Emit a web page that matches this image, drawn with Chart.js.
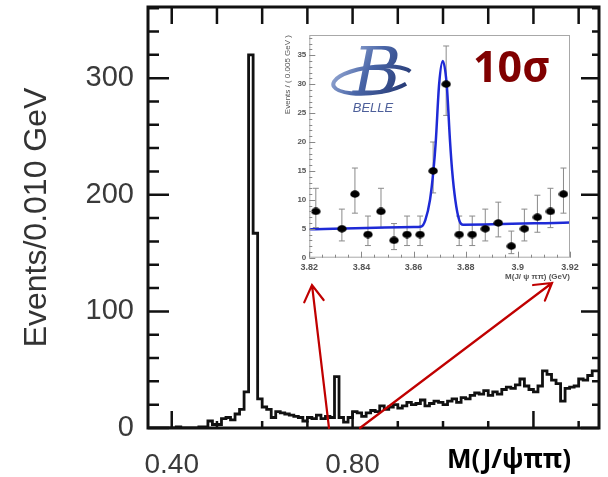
<!DOCTYPE html>
<html lang="en">
<head>
<meta charset="UTF-8">
<title>chart</title>
<script src="https://cdn.jsdelivr.net/npm/chart.js@4.4.0/dist/chart.umd.min.js"></script>
<style>
  * { margin: 0; padding: 0; }
  body { background: #fff; }
  #wrap { position: relative; width: 608px; height: 477px; background: #fff; }
  #main { position: absolute; left: 0; top: 0; }
  #inset { position: absolute; left: 268px; top: 26px; }
</style>
</head>
<body>
<div id="wrap">
  <canvas id="main" width="608" height="477"></canvas>
  <canvas id="inset" width="316" height="268"></canvas>
</div>
<script>
// main histogram: M(J/psi pi pi) - M(J/psi), 0.010 GeV bins starting at 0.35
const binLo = 0.35;
const binWidth = 0.01;
const counts = [
  0, 0, 0, 0, 0, 0, 0, 1, 0, 0,
  0, 0, 1, 1, 6, 3, 3, 8, 9, 7,
  12, 16, 31, 320, 167, 25, 18, 16, 9, 14,
  13, 12, 11, 10, 9, 6, 9, 8, 11, 8,
  10, 9, 44, 9, 5, 9, 14, 13, 10, 13,
  15, 14, 19, 16, 18, 20, 17, 19, 22, 20,
  21, 24, 19, 21, 23, 22, 20, 23, 25, 22,
  26, 25, 28, 30, 29, 32, 28, 31, 29, 33,
  35, 34, 37, 42, 36, 33, 31, 36, 49, 46,
  41, 38, 23, 34, 35, 36, 42, 41, 45, 49
];
const xTickVals = [0.4, 0.5, 0.6, 0.7, 0.8, 0.9, 1.0, 1.1, 1.2, 1.3];
const xLabelVals = [0.4, 0.8];
const xMajorVals = [0.4, 0.8, 1.2];
const yTickVals = [0, 20, 40, 60, 80, 100, 120, 140, 160, 180, 200, 220, 240, 260, 280, 300, 320, 340, 360];
const yLabelVals = [0, 100, 200, 300];

// inset: zoom on X(3872), 0.005 GeV bins
const insetX = [3.8225, 3.8325, 3.8375, 3.8425, 3.8475, 3.8525, 3.8575, 3.8625, 3.8675, 3.8725,
                3.8775, 3.8825, 3.8875, 3.8925, 3.8975, 3.9025, 3.9075, 3.9125, 3.9175];
const insetY = [8, 5, 11, 4, 8, 3, 4, 4, 15, 30, 4, 4, 5, 6, 2, 5, 7, 8, 11];
const insetErrLo = [5.2, 2.9, 7.7, 2.1, 5.2, 1.4, 2.1, 2.1, 11.2, 24.6, 2.1, 2.1, 2.9, 3.6, 0.7, 2.9, 4.4, 5.2, 7.7];
const insetErrHi = [12, 8.4, 15.5, 7.2, 12, 5.9, 7.2, 7.2, 20, 36.6, 7.2, 7.2, 8.4, 9.6, 4.6, 8.4, 10.8, 12, 15.5];
const fitX = [3.82, 3.86, 3.863, 3.8645, 3.8663, 3.8676, 3.8685, 3.8698, 3.8712, 3.8727, 3.874, 3.8748, 3.876, 3.8775, 3.879, 3.92];
const fitY = [4.9, 5.3, 5.4, 6.5, 10, 15, 20, 30, 34, 30, 20, 15, 10, 6.5, 5.7, 6.1];
const insetXTicks = [3.82, 3.84, 3.86, 3.88, 3.9, 3.92];
const insetYTicks = [0, 5, 10, 15, 20, 25, 30, 35];

const histPoints = counts.map((c, i) => ({ x: binLo + i * binWidth, y: c }));
histPoints.push({ x: binLo + counts.length * binWidth, y: counts[counts.length - 1] });

function noPad(s) {
  s.paddingTop = 0; s.paddingBottom = 0; s.paddingLeft = 0; s.paddingRight = 0;
}

function arrow(ctx, x0, y0, x1, y1) {
  const a = Math.atan2(y1 - y0, x1 - x0), h = 19, w = 0.54;
  ctx.beginPath();
  ctx.moveTo(x0, y0);
  ctx.lineTo(x1, y1);
  ctx.moveTo(x1 - h * Math.cos(a - w), y1 - h * Math.sin(a - w));
  ctx.lineTo(x1, y1);
  ctx.lineTo(x1 - h * Math.cos(a + w), y1 - h * Math.sin(a + w));
  ctx.stroke();
}

const mainDecor = {
  id: 'mainDecor',
  afterDraw(chart) {
    const { ctx, chartArea: a, scales: { x, y } } = chart;
    ctx.save();
    ctx.strokeStyle = '#111';
    ctx.lineWidth = 2.5;
    ctx.beginPath();
    xTickVals.forEach(v => {
      const px = x.getPixelForValue(v);
      const major = xMajorVals.some(m => Math.abs(m - v) < 1e-6);
      ctx.moveTo(px, a.top); ctx.lineTo(px, a.top + 17);
      ctx.moveTo(px, a.bottom); ctx.lineTo(px, a.bottom - (major ? 17 : 7));
    });
    yTickVals.forEach(v => {
      const py = y.getPixelForValue(v);
      const major = v % 100 === 0;
      ctx.moveTo(a.left, py); ctx.lineTo(a.left + (major ? 21 : 11), py);
      ctx.moveTo(a.right, py); ctx.lineTo(a.right - (major ? 18 : 7), py);
    });
    ctx.stroke();
    ctx.lineWidth = 3;
    ctx.strokeRect(a.left, a.top, a.width, a.height);

    // red arrows pointing to the inset
    ctx.strokeStyle = '#c00000';
    ctx.lineWidth = 2.2;
    ctx.lineCap = 'round';
    arrow(ctx, 329, a.bottom, 312, 285);
    arrow(ctx, 360, a.bottom, 552, 283);

    // axis label at the right of the x axis
    ctx.fillStyle = '#000';
    ctx.font = 'bold 26px "Noto Sans"';
    ctx.textAlign = 'center';
    ctx.textBaseline = 'alphabetic';
    ctx.fillText('M(J/ψππ)', 509, 468);
    ctx.restore();
  }
};

new Chart(document.getElementById('main'), {
  type: 'line',
  data: {
    datasets: [{
      data: histPoints,
      stepped: 'after',
      borderColor: '#111',
      borderWidth: 2.8,
      pointRadius: 0,
      fill: false
    }]
  },
  options: {
    responsive: false,
    animation: false,
    devicePixelRatio: 1,
    layout: { padding: { top: 7, right: 9, left: 0, bottom: 0 } },
    plugins: { legend: { display: false }, tooltip: { enabled: false } },
    scales: {
      x: {
        type: 'linear', min: 0.3475, max: 1.345,
        grid: { display: false, drawTicks: false },
        border: { display: false },
        afterBuildTicks: s => { s.ticks = xLabelVals.map(v => ({ value: v })); },
        afterFit: s => { s.height = 49; noPad(s); },
        ticks: {
          padding: 20, color: '#3a3a3a', maxRotation: 0, autoSkip: false,
          font: { family: 'Liberation Sans', size: 28 },
          callback: v => Number(v).toFixed(2)
        }
      },
      y: {
        min: 0, max: 361,
        grid: { display: false, drawTicks: false },
        border: { display: false },
        afterBuildTicks: s => { s.ticks = yLabelVals.map(v => ({ value: v })); },
        afterFit: s => { s.width = 148; noPad(s); },
        ticks: {
          padding: 14, color: '#3a3a3a',
          font: { family: 'Liberation Sans', size: 29 }
        },
        title: {
          display: true, text: 'Events/0.010 GeV', color: '#333',
          font: { family: 'Liberation Sans', size: 32 },
          padding: { top: 18, bottom: 0 }
        }
      }
    }
  },
  plugins: [mainDecor]
});

// inset
const dot = document.createElement('canvas');
dot.width = 10; dot.height = 8;
const dctx = dot.getContext('2d');
dctx.fillStyle = '#000';
dctx.beginPath();
dctx.ellipse(5, 4, 4.7, 3.7, 0, 0, Math.PI * 2);
dctx.fill();

function drawLogo(ctx, cx, cy) {
  ctx.save();
  const g = ctx.createLinearGradient(cx - 40, cy - 25, cx + 40, cy + 25);
  g.addColorStop(0, '#b7c6e6');
  g.addColorStop(0.45, '#4a66a8');
  g.addColorStop(1, '#1d2f68');
  ctx.strokeStyle = g;
  ctx.lineWidth = 4;
  ctx.beginPath();
  ctx.ellipse(cx, cy + 8, 40, 13, -0.12, 0.2 * Math.PI, 1.9 * Math.PI);
  ctx.stroke();
  ctx.fillStyle = g;
  ctx.font = 'italic 66px "DejaVu Serif"';
  ctx.textAlign = 'center';
  ctx.textBaseline = 'alphabetic';
  ctx.fillText('B', cx + 4, cy + 22);
  ctx.font = 'italic 13px "Liberation Sans"';
  ctx.fillStyle = '#4d5f9a';
  ctx.fillText('BELLE', cx, cy + 40);
  ctx.restore();
}

const insetDecor = {
  id: 'insetDecor',
  beforeDatasetsDraw(chart) {
    const { ctx, scales: { x, y } } = chart;
    ctx.save();
    ctx.strokeStyle = '#8a8a8a';
    ctx.lineWidth = 1;
    ctx.beginPath();
    insetX.forEach((v, i) => {
      const px = x.getPixelForValue(v);
      const lo = y.getPixelForValue(insetErrLo[i]);
      const hi = y.getPixelForValue(insetErrHi[i]);
      ctx.moveTo(px, lo); ctx.lineTo(px, hi);
      ctx.moveTo(px - 3, lo); ctx.lineTo(px + 3, lo);
      ctx.moveTo(px - 3, hi); ctx.lineTo(px + 3, hi);
    });
    ctx.stroke();
    ctx.restore();
  },
  afterDraw(chart) {
    const { ctx, chartArea: a, scales: { x, y } } = chart;
    ctx.save();
    ctx.strokeStyle = '#a8a8a8';
    ctx.lineWidth = 1;
    ctx.strokeRect(a.left + 0.5, a.top + 0.5, a.width - 1, a.height - 1);
    ctx.strokeStyle = '#888';
    ctx.beginPath();
    for (let v = 0; v <= 38; v++) {
      const py = Math.round(y.getPixelForValue(v)) + 0.5;
      ctx.moveTo(a.left, py); ctx.lineTo(a.left + (v % 5 === 0 ? 6 : 3), py);
    }
    for (let v = 3.82; v <= 3.9201; v += 0.005) {
      const px = Math.round(x.getPixelForValue(v)) + 0.5;
      const major = Math.abs(Math.round(v * 50) - v * 50) < 1e-6;
      ctx.moveTo(px, a.bottom); ctx.lineTo(px, a.bottom - (major ? 6 : 3));
    }
    ctx.stroke();

    drawLogo(ctx, 105, 46);

    ctx.fillStyle = '#800000';
    ctx.font = 'bold 43px "Noto Sans"';
    ctx.textAlign = 'left';
    ctx.textBaseline = 'alphabetic';
    ctx.fillText('10σ', 205, 56);
    ctx.restore();
  }
};

new Chart(document.getElementById('inset'), {
  type: 'line',
  data: {
    datasets: [{
      data: insetX.map((v, i) => ({ x: v, y: insetY[i] })),
      showLine: false,
      pointStyle: dot,
      pointRadius: 5,
      borderColor: '#000',
      backgroundColor: '#000'
    }, {
      data: fitX.map((v, i) => ({ x: v, y: fitY[i] })),
      borderColor: '#1e2ad6',
      borderWidth: 2.5,
      pointRadius: 0,
      cubicInterpolationMode: 'monotone',
      fill: false
    }]
  },
  options: {
    responsive: false,
    animation: false,
    devicePixelRatio: 1,
    layout: { padding: { top: 9, right: 14, left: 0, bottom: 0 } },
    plugins: { legend: { display: false }, tooltip: { enabled: false } },
    scales: {
      x: {
        type: 'linear', min: 3.82, max: 3.92,
        grid: { display: false, drawTicks: false },
        border: { display: false },
        afterBuildTicks: s => { s.ticks = insetXTicks.map(v => ({ value: v })); },
        afterFit: s => { s.height = 36.3; noPad(s); },
        ticks: {
          padding: 4, color: '#555', maxRotation: 0, autoSkip: false,
          font: { family: 'Liberation Sans', size: 9, weight: 'bold' },
          callback: v => String(Number(Number(v).toFixed(2)))
        },
        title: {
          display: true, text: 'M(J/ ψ ππ) (GeV)', align: 'end', color: '#555',
          font: { family: 'Liberation Sans', size: 8, weight: 'bold' },
          padding: { top: 0, bottom: 12 }
        }
      },
      y: {
        min: 0, max: 38.5,
        grid: { display: false, drawTicks: false },
        border: { display: false },
        afterBuildTicks: s => { s.ticks = insetYTicks.map(v => ({ value: v })); },
        afterFit: s => { s.width = 41.3; noPad(s); },
        ticks: {
          padding: 3, color: '#555',
          font: { family: 'Liberation Sans', size: 8, weight: 'bold' }
        },
        title: {
          display: true, text: 'Events / ( 0.005 GeV )', align: 'end', color: '#555',
          font: { family: 'Liberation Sans', size: 8 },
          padding: { top: 15, bottom: 0 }
        }
      }
    }
  },
  plugins: [insetDecor]
});
</script>
</body>
</html>
